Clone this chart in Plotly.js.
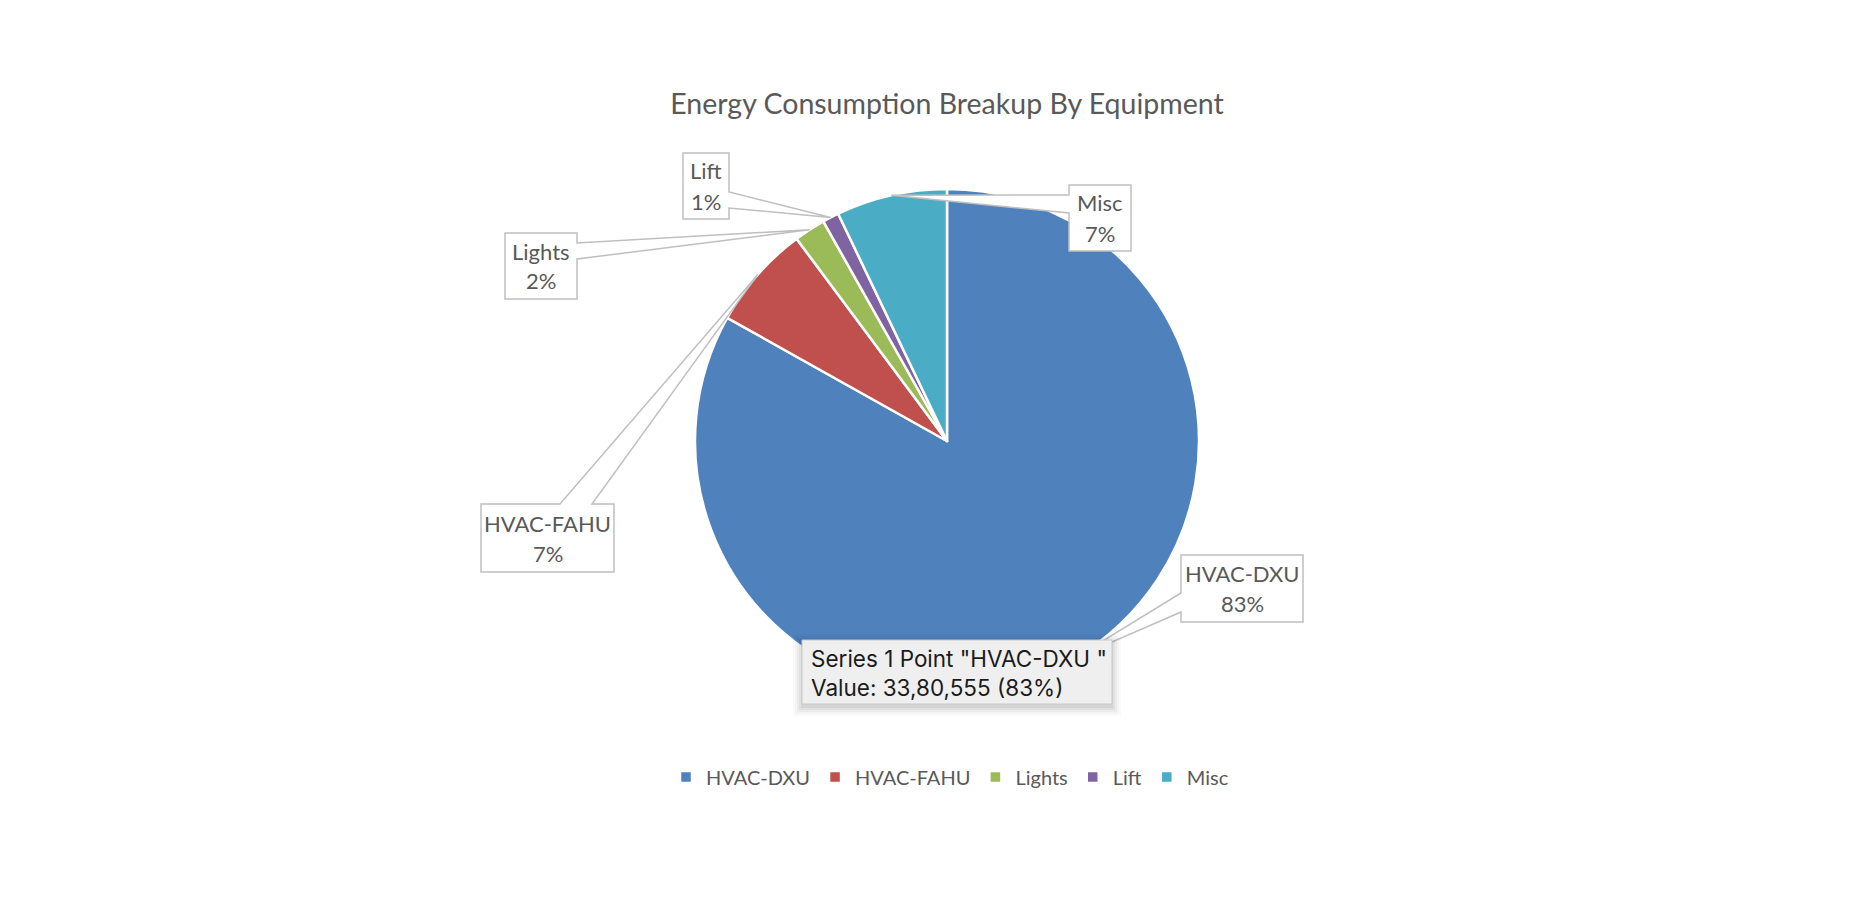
<!DOCTYPE html>
<html>
<head>
<meta charset="utf-8">
<script src="https://cdn.plot.ly/plotly-3.0.1.min.js"></script>
<style>
  html, body { margin: 0; padding: 0; background: #ffffff; }
  #chart { width: 1863px; height: 900px; }
</style>
</head>
<body>
<div id="chart"></div>
<script>
// ---------------- DATA ----------------
const categories = ['HVAC-DXU', 'HVAC-FAHU', 'Lights', 'Lift', 'Misc'];
const values = [3380555, 272000, 82000, 43000, 289000];
const colors = ['#4F81BD', '#C0504D', '#9BBB59', '#8064A2', '#4BACC6'];
const chartTitle = 'Energy Consumption Breakup By Equipment';
const seriesName = 'Series 1';
const hoveredIndex = 0;

// ---------------- LAYOUT CONSTANTS ----------------
const W = 1863, H = 900;
const CX = 947, CY = 441, R = 252;          // pie centre / radius in px
const FONT = 'Lato, "Open Sans", sans-serif';
const TEXT_COLOR = '#595959';
const BOX_LINE = '#BFBFBF';

// callout boxes (px): box, side where the pointer attaches and its base span
const callouts = [
  {box: [1181, 555, 1303, 622], side: 'left',  base: [593, 612]},   // HVAC-DXU
  {box: [481, 504, 614, 572],   side: 'top',   base: [560, 592]},   // HVAC-FAHU
  {box: [505, 233, 577, 299],   side: 'right', base: [243, 259]},   // Lights
  {box: [683, 153, 729, 219],   side: 'right', base: [192, 208]},   // Lift
  {box: [1069, 185, 1131, 251], side: 'left',  base: [195, 213]}    // Misc
];
const tipBox = [802, 640, 1112, 704];

// ---------------- HELPERS ----------------
const px = x => x / W;
const py = y => 1 - y / H;
const P = (x, y) => px(x).toFixed(5) + ',' + py(y).toFixed(5);

function indianFormat(n) {
  const s = String(Math.round(n));
  if (s.length <= 3) return s;
  const last3 = s.slice(-3);
  const rest = s.slice(0, -3).replace(/\B(?=(\d{2})+(?!\d))/g, ',');
  return rest + ',' + last3;
}

const total = values.reduce((a, b) => a + b, 0);
const pcts = values.map(v => Math.round(v / total * 100));

// tips: mid-angle of each slice on the circumference (clockwise from 12 o'clock)
let cum = 0;
const tips = values.map(v => {
  const mid = (cum + v / 2) / total * 2 * Math.PI;
  cum += v;
  return [CX + R * Math.sin(mid), CY - R * Math.cos(mid)];
});

function calloutPath(c, tip) {
  const [x0, y0, x1, y1] = c.box;
  const [b0, b1] = c.base;
  const [tx, ty] = tip;
  let pts;
  if (c.side === 'right') {
    pts = [[x0, y0], [x1, y0], [x1, b0], [tx, ty], [x1, b1], [x1, y1], [x0, y1]];
  } else if (c.side === 'left') {
    pts = [[x0, y0], [x1, y0], [x1, y1], [x0, y1], [x0, b1], [tx, ty], [x0, b0]];
  } else {
    pts = [[x0, y0], [b0, y0], [tx, ty], [b1, y0], [x1, y0], [x1, y1], [x0, y1]];
  }
  return 'M' + pts.map(p => P(p[0], p[1])).join('L') + 'Z';
}

const shapes = [];
const annotations = [];

categories.forEach((cat, i) => {
  const c = callouts[i];
  shapes.push({
    type: 'path', xref: 'paper', yref: 'paper', layer: 'above',
    path: calloutPath(c, tips[i]),
    fillcolor: '#ffffff',
    line: {color: BOX_LINE, width: 1.5}
  });
  const xc = (c.box[0] + c.box[2]) / 2, yc = (c.box[1] + c.box[3]) / 2;
  [[cat, yc - 15], [pcts[i] + '%', yc + 15]].forEach(([t, y]) => {
    annotations.push({
      xref: 'paper', yref: 'paper',
      x: px(xc), y: py(y),
      xanchor: 'center', yanchor: 'middle',
      text: t, showarrow: false, align: 'center',
      font: {family: FONT, size: 22, color: TEXT_COLOR}
    });
  });
});

// tooltip (hover box) with soft shadow
const [tx0, ty0, tx1, ty1] = tipBox;
[[9, 0.02], [7, 0.025], [5, 0.035], [3, 0.045], [1, 0.05]].forEach(([s, o]) => {
  shapes.push({
    type: 'rect', xref: 'paper', yref: 'paper', layer: 'above',
    x0: px(tx0 - s), x1: px(tx1 + s), y0: py(ty0 - s + 3), y1: py(ty1 + s + 3),
    fillcolor: 'rgba(0,0,0,' + o + ')', line: {width: 0}
  });
});
shapes.push({
  type: 'rect', xref: 'paper', yref: 'paper', layer: 'above',
  x0: px(tx0), x1: px(tx1), y0: py(ty0), y1: py(ty1),
  fillcolor: '#EFEFEF', line: {color: '#C9C9C9', width: 1}
});
annotations.push({
  xref: 'paper', yref: 'paper',
  x: px(tx0 + 7), y: py((ty0 + ty1) / 2 + 1),
  xanchor: 'left', yanchor: 'middle', align: 'left', showarrow: false,
  text: seriesName + ' Point "' + categories[hoveredIndex] + ' "<br>' +
        'Value: ' + indianFormat(values[hoveredIndex]) + ' (' + pcts[hoveredIndex] + '%)',
  font: {family: 'Inter, "Noto Sans", sans-serif', size: 22.5, color: '#1b1b1b'}
});

const trace = {
  type: 'pie',
  labels: categories,
  values: values,
  sort: false,
  direction: 'clockwise',
  rotation: 0,
  textinfo: 'none',
  hoverinfo: 'none',
  marker: {colors: colors, line: {color: '#ffffff', width: 2.5}},
  domain: {
    x: [px(CX - R), px(CX + R)],
    y: [py(CY + R), py(CY - R)]
  }
};

const layout = {
  width: W, height: H,
  margin: {l: 0, r: 0, t: 0, b: 0},
  paper_bgcolor: '#ffffff',
  plot_bgcolor: '#ffffff',
  title: {
    text: chartTitle,
    font: {family: FONT, size: 28.5, color: TEXT_COLOR},
    x: px(947), xanchor: 'center', xref: 'paper',
    y: py(104), yanchor: 'middle', yref: 'container'
  },
  showlegend: true,
  legend: {
    orientation: 'h',
    x: px(950), xanchor: 'center',
    y: py(777), yanchor: 'middle',
    font: {family: FONT, size: 20, color: TEXT_COLOR},
    bgcolor: 'rgba(0,0,0,0)',
    traceorder: 'normal'
  },
  shapes: shapes,
  annotations: annotations
};

Plotly.newPlot('chart', [trace], layout, {staticPlot: true, displayModeBar: false});
</script>
</body>
</html>
